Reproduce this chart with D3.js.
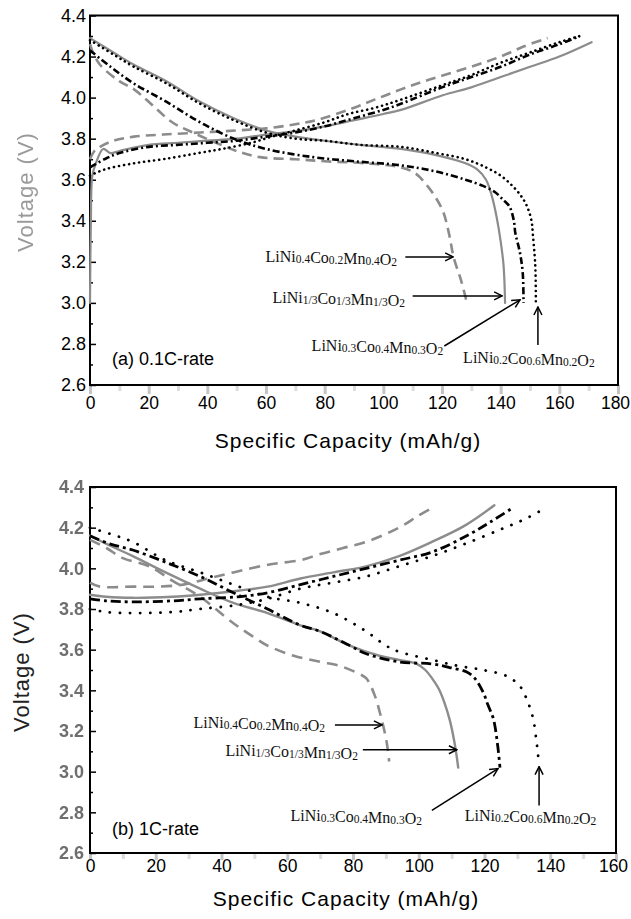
<!DOCTYPE html>
<html>
<head>
<meta charset="utf-8">
<script src="https://cdn.jsdelivr.net/npm/d3@7"></script>
<style>
  body { margin: 0; background: #fff; }
  svg { display: block; }
</style>
</head>
<body>
<script>
// discharge / charge curves: [capacity mAh/g, voltage V]

// (a) 0.1C-rate
var aSolidCh = [[0,3.0],[0.3,3.4],[0.8,3.62],[2,3.68],[4.5,3.75],[7,3.73],[10,3.74],[20,3.77],[30,3.78],[40,3.79],[50,3.80],[60,3.82],[72,3.84],[80,3.86],[90,3.89],[100,3.92],[106,3.94],[120,4.01],[130,4.05],[140,4.10],[150,4.15],[160,4.20],[171,4.27]];
var aSolidDis = [[0,4.29],[8,4.22],[15,4.16],[26,4.08],[37.5,3.98],[49,3.90],[60,3.84],[70,3.81],[80,3.79],[92,3.77],[106,3.75],[118,3.72],[128,3.68],[132,3.65],[135,3.60],[137,3.52],[138.6,3.42],[140,3.30],[141,3.18],[141.5,3.0]];
var aDashedCh = [[0,3.70],[1.5,3.74],[3.4,3.76],[8,3.79],[15,3.81],[25,3.82],[37.5,3.83],[50,3.84],[60,3.85],[70,3.87],[77,3.89],[88,3.94],[97,3.99],[106,4.04],[114,4.08],[123,4.12],[132,4.16],[140,4.20],[148,4.25],[156,4.29]];
var aDashedDis = [[0,4.26],[1,4.22],[3.4,4.16],[10,4.08],[15,4.04],[20,3.98],[28,3.88],[35,3.83],[43,3.78],[50,3.74],[58,3.71],[70,3.70],[80,3.69],[94,3.68],[106,3.66],[111,3.63],[115,3.57],[118,3.51],[120.5,3.44],[122.5,3.33],[124,3.22],[126.5,3.11],[128.5,3.0]];
var aDashDotCh = [[0,3.66],[5,3.70],[10,3.73],[20,3.76],[30,3.77],[40,3.78],[50,3.79],[60,3.81],[70,3.83],[80,3.86],[90,3.90],[100,3.94],[106,3.97],[120,4.05],[130,4.10],[140,4.15],[150,4.21],[160,4.26],[167,4.30]];
var aDashDotDis = [[0,4.23],[7,4.15],[14.8,4.07],[26,3.98],[37.5,3.88],[49,3.80],[60,3.75],[76,3.71],[90,3.69],[106,3.67],[118,3.64],[128,3.60],[134,3.57],[138,3.54],[141,3.50],[143,3.47],[144.5,3.40],[145,3.34],[146.5,3.25],[147.5,3.15],[147.8,3.0]];
var aDottedCh = [[0,3.62],[5,3.65],[15,3.68],[25,3.70],[37,3.73],[45,3.75],[55,3.78],[62,3.81],[70,3.84],[80,3.88],[88,3.92],[97,3.95],[106,3.99],[120,4.06],[130,4.11],[140,4.17],[150,4.22],[160,4.27],[167,4.30]];
var aDottedDis = [[0,4.28],[8,4.21],[15,4.15],[26,4.07],[37.5,3.97],[49,3.89],[60,3.83],[70,3.80],[80,3.79],[92,3.77],[106,3.76],[118,3.73],[128,3.70],[135,3.66],[140,3.62],[144,3.57],[147,3.52],[149,3.47],[150.5,3.40],[151,3.33],[151.8,3.18],[152,3.0]];

// (b) 1C-rate
var bSolidCh = [[0,3.87],[5,3.86],[13,3.855],[25,3.86],[33.5,3.87],[45,3.89],[54,3.91],[64,3.95],[74,3.98],[84,4.01],[94,4.06],[104,4.13],[114,4.21],[123,4.31]];
var bSolidDis = [[0,4.16],[5,4.12],[13,4.06],[23,3.98],[33.5,3.90],[43.6,3.83],[54,3.78],[64,3.72],[70,3.69],[79,3.62],[88,3.57],[94,3.55],[99.4,3.53],[102,3.50],[104,3.46],[106,3.41],[107.8,3.34],[109.5,3.25],[110.8,3.15],[111.5,3.08],[112,3.02]];
var bDashedCh = [[0,3.93],[3,3.91],[13,3.91],[20,3.91],[28.4,3.92],[36,3.95],[43.6,3.98],[55,4.02],[64,4.04],[70,4.07],[77,4.10],[84,4.13],[94,4.20],[100,4.26],[104.4,4.30]];
var bDashedDis = [[0,4.14],[5,4.10],[10,4.05],[18,4.01],[25,3.94],[33.5,3.86],[43.6,3.73],[50,3.66],[54,3.62],[62,3.57],[70,3.54],[76,3.52],[82,3.48],[84,3.46],[86.5,3.38],[88.5,3.27],[90.2,3.15],[91,3.05]];
var bDashDotCh = [[0,3.85],[5,3.84],[13,3.835],[25,3.84],[33.5,3.85],[45,3.86],[54,3.88],[64,3.92],[74,3.96],[84,4.0],[94,4.04],[104,4.08],[114.6,4.16],[122,4.23],[128.8,4.30]];
var bDashDotDis = [[0,4.16],[6,4.12],[13,4.09],[23,4.03],[33.5,3.96],[43.6,3.88],[54,3.80],[64,3.72],[70,3.69],[79,3.62],[84,3.58],[94,3.54],[104,3.53],[110,3.51],[114.6,3.49],[117,3.46],[119.6,3.39],[121,3.33],[122.7,3.26],[124,3.13],[124.7,3.02]];
var bDottedCh = [[0,3.80],[5,3.785],[13,3.78],[25,3.785],[33.5,3.80],[45,3.82],[54,3.85],[64,3.90],[74,3.93],[84,3.96],[94,4.01],[104,4.06],[114,4.12],[124.7,4.19],[132,4.24],[139,4.30]];
var bDottedDis = [[0,4.20],[6,4.17],[13,4.13],[23,4.04],[33.5,3.98],[43.6,3.92],[54,3.86],[64,3.83],[74,3.78],[84,3.69],[90,3.62],[94,3.59],[104,3.55],[112,3.52],[119.6,3.50],[126.8,3.47],[130.8,3.42],[133,3.35],[134.8,3.26],[135.8,3.15],[136.3,3.08],[136.5,3.03]];

// compound names, [main, subscript] pieces
var f424 = [["LiNi","0.4"],["Co","0.2"],["Mn","0.4"],["O","2"]];
var f333 = [["LiNi","1/3"],["Co","1/3"],["Mn","1/3"],["O","2"]];
var f343 = [["LiNi","0.3"],["Co","0.4"],["Mn","0.3"],["O","2"]];
var f262 = [["LiNi","0.2"],["Co","0.6"],["Mn","0.2"],["O","2"]];

// label anchors + arrows, in data units
var annA = [
  {f: f424, x: 104.7, y: 3.20, anchor: "end", arrow: [[107.5,3.224],[123.8,3.224]]},
  {f: f333, x: 107.4, y: 3.00, anchor: "end", arrow: [[110,3.034],[140.5,3.034]]},
  {f: f343, x: 120.4, y: 2.766, anchor: "end", arrow: [[120.8,2.79],[146.6,3.015]]},
  {f: f262, x: 127.2, y: 2.707, anchor: "start", arrow: [[152.7,2.795],[152.7,2.98]]}
];
var annB = [
  {f: f424, x: 71.5, y: 3.216, anchor: "end", arrow: [[74.5,3.23],[88.8,3.23]]},
  {f: f333, x: 81.5, y: 3.079, anchor: "end", arrow: [[83,3.108],[111.6,3.108]]},
  {f: f343, x: 101, y: 2.756, anchor: "end", arrow: [[104,2.81],[124.1,3.015]]},
  {f: f262, x: 114, y: 2.756, anchor: "start", arrow: [[136.6,2.834],[136.6,3.025]]}
];

var yTicks = [2.6, 2.8, 3.0, 3.2, 3.4, 3.6, 3.8, 4.0, 4.2, 4.4];
var yMinor = [2.7, 2.9, 3.1, 3.3, 3.5, 3.7, 3.9, 4.1, 4.3];
var xTicksA = [0, 20, 40, 60, 80, 100, 120, 140, 160, 180];
var xTicksB = [0, 20, 40, 60, 80, 100, 120, 140, 160];

var svg = d3.select("body").append("svg")
  .attr("width", 631)
  .attr("height", 919)
  .style("font-family", "Arial, 'Liberation Sans', sans-serif");

var defs = svg.append("defs");
defs.append("filter").attr("id", "soft")
  .append("feGaussianBlur").attr("stdDeviation", 0.7);
defs.append("marker")
  .attr("id", "head")
  .attr("viewBox", "0 0 10 10")
  .attr("refX", 9).attr("refY", 5)
  .attr("markerWidth", 10).attr("markerHeight", 10)
  .attr("markerUnits", "userSpaceOnUse")
  .attr("orient", "auto")
  .append("path")
  .attr("d", "M1,1 L9,5 L1,9")
  .attr("fill", "none")
  .attr("stroke", "#000")
  .attr("stroke-width", 1.5);

var gray = "#8c8c8c";

function drawPanel(p) {
  var x = d3.scaleLinear().domain(p.xDomain).range(p.xRange);
  var y = d3.scaleLinear().domain([2.6, 4.4]).range(p.yRange);

  var g = svg.append("g");

  // blurry grey outer ticks on the x axis
  var xMinor = d3.range(p.xDomain[0] + 10, p.xDomain[1], 20);
  g.append("g")
    .attr("transform", "translate(0," + p.yRange[0] + ")")
    .call(d3.axisBottom(x).tickValues(xMinor).tickSize(6).tickFormat(""))
    .call(function(a) { a.select(".domain").remove(); })
    .selectAll("line").attr("stroke", "#dcdcdc").attr("stroke-width", 3);

  var xa = g.append("g")
    .attr("transform", "translate(0," + p.yRange[0] + ")")
    .call(d3.axisBottom(x).tickValues(p.xTicks).tickSize(p.xTickSize).tickPadding(p.xPad));
  xa.select(".domain").remove();
  xa.selectAll("line").attr("stroke", "#c4c4c4").attr("stroke-width", 3);
  xa.selectAll("text")
    .attr("fill", "#000")
    .attr("dx", function(d, i, n) { return i === n.length - 1 ? -3 : 0; })
    .style("font-size", "17.5px")
    .style("font-family", "Arial, 'Liberation Sans', sans-serif");

  // y axis, ticks pointing inward
  g.append("g")
    .attr("transform", "translate(" + p.xRange[0] + ",0)")
    .call(d3.axisLeft(y).tickValues(yMinor).tickSize(-3).tickFormat(""))
    .call(function(a) { a.select(".domain").remove(); })
    .selectAll("line").attr("stroke", "#000").attr("stroke-width", 1.5);

  var ya = g.append("g")
    .attr("transform", "translate(" + p.xRange[0] + ",0)")
    .call(d3.axisLeft(y).tickValues(yTicks).tickSize(-6).tickPadding(p.yPad).tickFormat(d3.format(".1f")));
  ya.select(".domain").remove();
  ya.selectAll("line").attr("stroke", "#000").attr("stroke-width", 1.5);
  ya.selectAll("text")
    .attr("fill", p.yLabelColor)
    .style("font-size", "18px")
    .style("font-weight", p.yLabelWeight)
    .style("font-family", "Arial, 'Liberation Sans', sans-serif")
    .attr("filter", p.yLabelBlur ? "url(#soft)" : null);

  // frame
  g.append("rect")
    .attr("x", p.xRange[0])
    .attr("y", p.yRange[1])
    .attr("width", p.xRange[1] - p.xRange[0])
    .attr("height", p.yRange[0] - p.yRange[1])
    .attr("fill", "none")
    .attr("stroke", "#000")
    .attr("stroke-width", 2);

  var line = d3.line()
    .x(function(d) { return x(d[0]); })
    .y(function(d) { return y(d[1]); })
    .curve(d3.curveCatmullRom.alpha(0.5));

  p.series.forEach(function(s) {
    var st = p.styles[s.style];
    g.append("path")
      .datum(s.data)
      .attr("fill", "none")
      .attr("stroke", st.color)
      .attr("stroke-width", st.width)
      .attr("stroke-dasharray", st.dash)
      .attr("stroke-linecap", st.cap)
      .attr("stroke-linejoin", "round")
      .attr("d", line);
  });

  // compound labels with arrows
  p.ann.forEach(function(a) {
    var t = g.append("text")
      .attr("x", x(a.x))
      .attr("y", y(a.y))
      .attr("text-anchor", a.anchor)
      .style("font-family", "'Liberation Serif', 'Times New Roman', serif")
      .style("font-size", "16px")
      .attr("fill", "#111");
    a.f.forEach(function(part) {
      t.append("tspan").text(part[0]);
      t.append("tspan").style("font-size", "11.5px").attr("dy", 1).text(part[1]);
      t.append("tspan").attr("dy", -1).text("");
    });
    g.append("line")
      .attr("x1", x(a.arrow[0][0])).attr("y1", y(a.arrow[0][1]))
      .attr("x2", x(a.arrow[1][0])).attr("y2", y(a.arrow[1][1]))
      .attr("stroke", "#000")
      .attr("stroke-width", 1.5)
      .attr("marker-end", "url(#head)");
  });

  g.append("text")
    .attr("x", 112)
    .attr("y", p.tagY)
    .style("font-size", "18px")
    .text(p.tag);

  g.append("text")
    .attr("x", p.xTitleX)
    .attr("y", p.xTitleY)
    .attr("text-anchor", "middle")
    .style("font-size", "21px")
    .style("letter-spacing", "1px")
    .text("Specific Capacity (mAh/g)");

  g.append("text")
    .attr("transform", "translate(" + p.yTitleX + "," + p.yTitleY + ") rotate(-90)")
    .attr("text-anchor", "middle")
    .attr("dy", "0.35em")
    .style("font-size", "22px")
    .style("letter-spacing", "1px")
    .attr("fill", p.yTitleColor)
    .attr("filter", p.yTitleBlur ? "url(#soft)" : null)
    .text("Voltage (V)");
}

drawPanel({
  xDomain: [0, 180], xRange: [90, 618], yRange: [385, 15.5],
  xTicks: xTicksA, xTickSize: 9, xPad: 3, yPad: 4,
  yLabelColor: "#000", yLabelWeight: "normal", yLabelBlur: false,
  yTitleColor: "#9a9a9a", yTitleBlur: true, yTitleX: 25, yTitleY: 192,
  xTitleX: 348, xTitleY: 448,
  tag: "(a) 0.1C-rate", tagY: 365,
  ann: annA,
  styles: {
    solid:   {color: gray, width: 2.2, dash: null, cap: "round"},
    dashed:  {color: gray, width: 2.6, dash: "10,6", cap: "butt"},
    dashdot: {color: "#000", width: 2.6, dash: "7,3,2,3", cap: "butt"},
    dotted:  {color: "#000", width: 2.6, dash: "0.1,5", cap: "round"}
  },
  series: [
    {style: "solid", data: aSolidCh}, {style: "solid", data: aSolidDis},
    {style: "dashed", data: aDashedCh}, {style: "dashed", data: aDashedDis},
    {style: "dashdot", data: aDashDotCh}, {style: "dashdot", data: aDashDotDis},
    {style: "dotted", data: aDottedCh}, {style: "dotted", data: aDottedDis}
  ]
});

drawPanel({
  xDomain: [0, 160], xRange: [90, 616], yRange: [853, 487],
  xTicks: xTicksB, xTickSize: 7, xPad: 0, yPad: 6,
  yLabelColor: "#6e6e6e", yLabelWeight: "bold", yLabelBlur: true,
  yTitleColor: "#222", yTitleBlur: false, yTitleX: 21, yTitleY: 672,
  xTitleX: 346, xTitleY: 906,
  tag: "(b) 1C-rate", tagY: 835,
  ann: annB,
  styles: {
    solid:   {color: gray, width: 2.4, dash: null, cap: "round"},
    dashed:  {color: gray, width: 2.6, dash: "11,7", cap: "butt"},
    dashdot: {color: "#000", width: 2.8, dash: "10,4,3,4", cap: "butt"},
    dotted:  {color: "#000", width: 2.8, dash: "0.1,10", cap: "round"}
  },
  series: [
    {style: "solid", data: bSolidCh}, {style: "solid", data: bSolidDis},
    {style: "dashed", data: bDashedCh}, {style: "dashed", data: bDashedDis},
    {style: "dashdot", data: bDashDotCh}, {style: "dashdot", data: bDashDotDis},
    {style: "dotted", data: bDottedCh}, {style: "dotted", data: bDottedDis}
  ]
});
</script>
</body>
</html>
